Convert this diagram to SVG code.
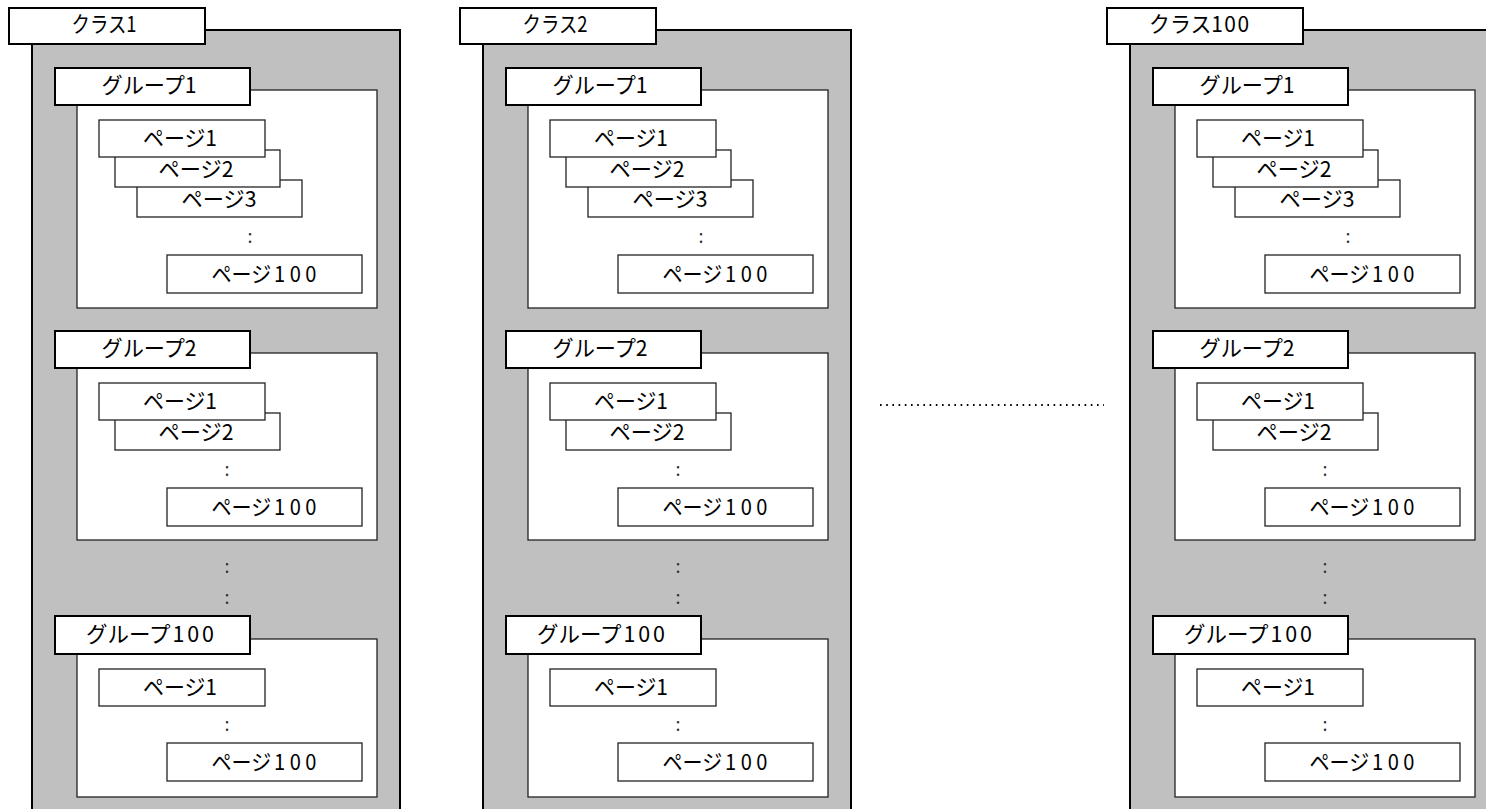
<svg xmlns="http://www.w3.org/2000/svg" width="1486" height="809" viewBox="0 0 1486 809">
<style>
.cls{fill:#c0c0c0;stroke:#000;stroke-width:2}
.lbl{fill:#fff;stroke:#000;stroke-width:2}
.grp{fill:#fff;stroke:#222;stroke-width:1.3}
.pg{fill:#fff;stroke:#222;stroke-width:1.3}
text{font-family:"Noto Sans CJK JP","Noto Sans",sans-serif;font-size:22px;fill:#000;text-anchor:middle}
.dots{font-size:18px;fill:#333}
.conn{stroke:#000;stroke-width:2;stroke-dasharray:1.6 4.6;fill:none}
</style>
<rect x="0" y="0" width="1486" height="809" fill="#fff"/>

<g id="class1">
<rect class="cls" x="32" y="30" width="368" height="800"/>
<rect class="lbl" x="9" y="8" width="196" height="36"/>
<text x="104" y="32" textLength="65" lengthAdjust="spacingAndGlyphs">クラス1</text>
<g id="c1-group1">
<rect class="grp" x="77" y="90" width="300" height="218"/>
<rect class="lbl" x="55" y="68" width="195" height="37"/>
<text x="149" y="93" textLength="95" lengthAdjust="spacingAndGlyphs">グループ1</text>
<g id="c1-g1-page3"><rect class="pg" x="137" y="180" width="165" height="37"/><text x="219" y="207" textLength="75" lengthAdjust="spacingAndGlyphs">ページ3</text></g>
<g id="c1-g1-page2"><rect class="pg" x="115" y="150" width="165" height="37"/><text x="196" y="177" textLength="75" lengthAdjust="spacingAndGlyphs">ページ2</text></g>
<g id="c1-g1-page1"><rect class="pg" x="99" y="120" width="166" height="37"/><text x="180" y="146" textLength="74" lengthAdjust="spacingAndGlyphs">ページ1</text></g>
<text class="dots" x="250" y="243">:</text>
<g id="c1-g1-page100"><rect class="pg" x="167" y="255" width="195" height="38"/><text x="264" y="282" dx="0 0 0 3 5 5" textLength="105" lengthAdjust="spacingAndGlyphs">ページ100</text></g>
</g>
<g id="c1-group2">
<rect class="grp" x="77" y="353" width="300" height="187"/>
<rect class="lbl" x="55" y="331" width="195" height="37"/>
<text x="149" y="356" textLength="95" lengthAdjust="spacingAndGlyphs">グループ2</text>
<g id="c1-g2-page2"><rect class="pg" x="115" y="413" width="165" height="37"/><text x="196" y="440" textLength="75" lengthAdjust="spacingAndGlyphs">ページ2</text></g>
<g id="c1-g2-page1"><rect class="pg" x="99" y="383" width="166" height="37"/><text x="180" y="409" textLength="74" lengthAdjust="spacingAndGlyphs">ページ1</text></g>
<text class="dots" x="227" y="476">:</text>
<g id="c1-g2-page100"><rect class="pg" x="167" y="488" width="195" height="38"/><text x="264" y="515" dx="0 0 0 3 5 5" textLength="105" lengthAdjust="spacingAndGlyphs">ページ100</text></g>
</g>
<text class="dots" x="227" y="573">:</text>
<text class="dots" x="227" y="604">:</text>
<g id="c1-group100">
<rect class="grp" x="77" y="639" width="300" height="158"/>
<rect class="lbl" x="55" y="616" width="195" height="38"/>
<text x="150" y="642" dx="0 0 0 0 2 3 3" textLength="128" lengthAdjust="spacingAndGlyphs">グループ100</text>
<g id="c1-g100-page1"><rect class="pg" x="99" y="669" width="166" height="37"/><text x="180" y="695" textLength="74" lengthAdjust="spacingAndGlyphs">ページ1</text></g>
<text class="dots" x="227" y="731">:</text>
<g id="c1-g100-page100"><rect class="pg" x="167" y="743" width="195" height="38"/><text x="264" y="770" dx="0 0 0 3 5 5" textLength="105" lengthAdjust="spacingAndGlyphs">ページ100</text></g>
</g>
</g>

<g id="class2" transform="translate(451,0)">
<rect class="cls" x="32" y="30" width="368" height="800"/>
<rect class="lbl" x="9" y="8" width="196" height="36"/>
<text x="104" y="32" textLength="65" lengthAdjust="spacingAndGlyphs">クラス2</text>
<g id="c2-group1">
<rect class="grp" x="77" y="90" width="300" height="218"/>
<rect class="lbl" x="55" y="68" width="195" height="37"/>
<text x="149" y="93" textLength="95" lengthAdjust="spacingAndGlyphs">グループ1</text>
<g id="c2-g1-page3"><rect class="pg" x="137" y="180" width="165" height="37"/><text x="219" y="207" textLength="75" lengthAdjust="spacingAndGlyphs">ページ3</text></g>
<g id="c2-g1-page2"><rect class="pg" x="115" y="150" width="165" height="37"/><text x="196" y="177" textLength="75" lengthAdjust="spacingAndGlyphs">ページ2</text></g>
<g id="c2-g1-page1"><rect class="pg" x="99" y="120" width="166" height="37"/><text x="180" y="146" textLength="74" lengthAdjust="spacingAndGlyphs">ページ1</text></g>
<text class="dots" x="250" y="243">:</text>
<g id="c2-g1-page100"><rect class="pg" x="167" y="255" width="195" height="38"/><text x="264" y="282" dx="0 0 0 3 5 5" textLength="105" lengthAdjust="spacingAndGlyphs">ページ100</text></g>
</g>
<g id="c2-group2">
<rect class="grp" x="77" y="353" width="300" height="187"/>
<rect class="lbl" x="55" y="331" width="195" height="37"/>
<text x="149" y="356" textLength="95" lengthAdjust="spacingAndGlyphs">グループ2</text>
<g id="c2-g2-page2"><rect class="pg" x="115" y="413" width="165" height="37"/><text x="196" y="440" textLength="75" lengthAdjust="spacingAndGlyphs">ページ2</text></g>
<g id="c2-g2-page1"><rect class="pg" x="99" y="383" width="166" height="37"/><text x="180" y="409" textLength="74" lengthAdjust="spacingAndGlyphs">ページ1</text></g>
<text class="dots" x="227" y="476">:</text>
<g id="c2-g2-page100"><rect class="pg" x="167" y="488" width="195" height="38"/><text x="264" y="515" dx="0 0 0 3 5 5" textLength="105" lengthAdjust="spacingAndGlyphs">ページ100</text></g>
</g>
<text class="dots" x="227" y="573">:</text>
<text class="dots" x="227" y="604">:</text>
<g id="c2-group100">
<rect class="grp" x="77" y="639" width="300" height="158"/>
<rect class="lbl" x="55" y="616" width="195" height="38"/>
<text x="150" y="642" dx="0 0 0 0 2 3 3" textLength="128" lengthAdjust="spacingAndGlyphs">グループ100</text>
<g id="c2-g100-page1"><rect class="pg" x="99" y="669" width="166" height="37"/><text x="180" y="695" textLength="74" lengthAdjust="spacingAndGlyphs">ページ1</text></g>
<text class="dots" x="227" y="731">:</text>
<g id="c2-g100-page100"><rect class="pg" x="167" y="743" width="195" height="38"/><text x="264" y="770" dx="0 0 0 3 5 5" textLength="105" lengthAdjust="spacingAndGlyphs">ページ100</text></g>
</g>
</g>

<g id="class100" transform="translate(1098,0)">
<rect class="cls" x="32" y="30" width="368" height="800"/>
<rect class="lbl" x="9" y="8" width="196" height="36"/>
<text x="101" y="32" dx="0 0 0 0 1.5 1.5" textLength="100" lengthAdjust="spacingAndGlyphs">クラス100</text>
<g id="c100-group1">
<rect class="grp" x="77" y="90" width="300" height="218"/>
<rect class="lbl" x="55" y="68" width="195" height="37"/>
<text x="149" y="93" textLength="95" lengthAdjust="spacingAndGlyphs">グループ1</text>
<g id="c100-g1-page3"><rect class="pg" x="137" y="180" width="165" height="37"/><text x="219" y="207" textLength="75" lengthAdjust="spacingAndGlyphs">ページ3</text></g>
<g id="c100-g1-page2"><rect class="pg" x="115" y="150" width="165" height="37"/><text x="196" y="177" textLength="75" lengthAdjust="spacingAndGlyphs">ページ2</text></g>
<g id="c100-g1-page1"><rect class="pg" x="99" y="120" width="166" height="37"/><text x="180" y="146" textLength="74" lengthAdjust="spacingAndGlyphs">ページ1</text></g>
<text class="dots" x="250" y="243">:</text>
<g id="c100-g1-page100"><rect class="pg" x="167" y="255" width="195" height="38"/><text x="264" y="282" dx="0 0 0 3 5 5" textLength="105" lengthAdjust="spacingAndGlyphs">ページ100</text></g>
</g>
<g id="c100-group2">
<rect class="grp" x="77" y="353" width="300" height="187"/>
<rect class="lbl" x="55" y="331" width="195" height="37"/>
<text x="149" y="356" textLength="95" lengthAdjust="spacingAndGlyphs">グループ2</text>
<g id="c100-g2-page2"><rect class="pg" x="115" y="413" width="165" height="37"/><text x="196" y="440" textLength="75" lengthAdjust="spacingAndGlyphs">ページ2</text></g>
<g id="c100-g2-page1"><rect class="pg" x="99" y="383" width="166" height="37"/><text x="180" y="409" textLength="74" lengthAdjust="spacingAndGlyphs">ページ1</text></g>
<text class="dots" x="227" y="476">:</text>
<g id="c100-g2-page100"><rect class="pg" x="167" y="488" width="195" height="38"/><text x="264" y="515" dx="0 0 0 3 5 5" textLength="105" lengthAdjust="spacingAndGlyphs">ページ100</text></g>
</g>
<text class="dots" x="227" y="573">:</text>
<text class="dots" x="227" y="604">:</text>
<g id="c100-group100">
<rect class="grp" x="77" y="639" width="300" height="158"/>
<rect class="lbl" x="55" y="616" width="195" height="38"/>
<text x="150" y="642" dx="0 0 0 0 2 3 3" textLength="128" lengthAdjust="spacingAndGlyphs">グループ100</text>
<g id="c100-g100-page1"><rect class="pg" x="99" y="669" width="166" height="37"/><text x="180" y="695" textLength="74" lengthAdjust="spacingAndGlyphs">ページ1</text></g>
<text class="dots" x="227" y="731">:</text>
<g id="c100-g100-page100"><rect class="pg" x="167" y="743" width="195" height="38"/><text x="264" y="770" dx="0 0 0 3 5 5" textLength="105" lengthAdjust="spacingAndGlyphs">ページ100</text></g>
</g>
</g>

<g id="connectors">
<line class="conn" x1="880" y1="405" x2="1104" y2="405"/>
</g>
</svg>
